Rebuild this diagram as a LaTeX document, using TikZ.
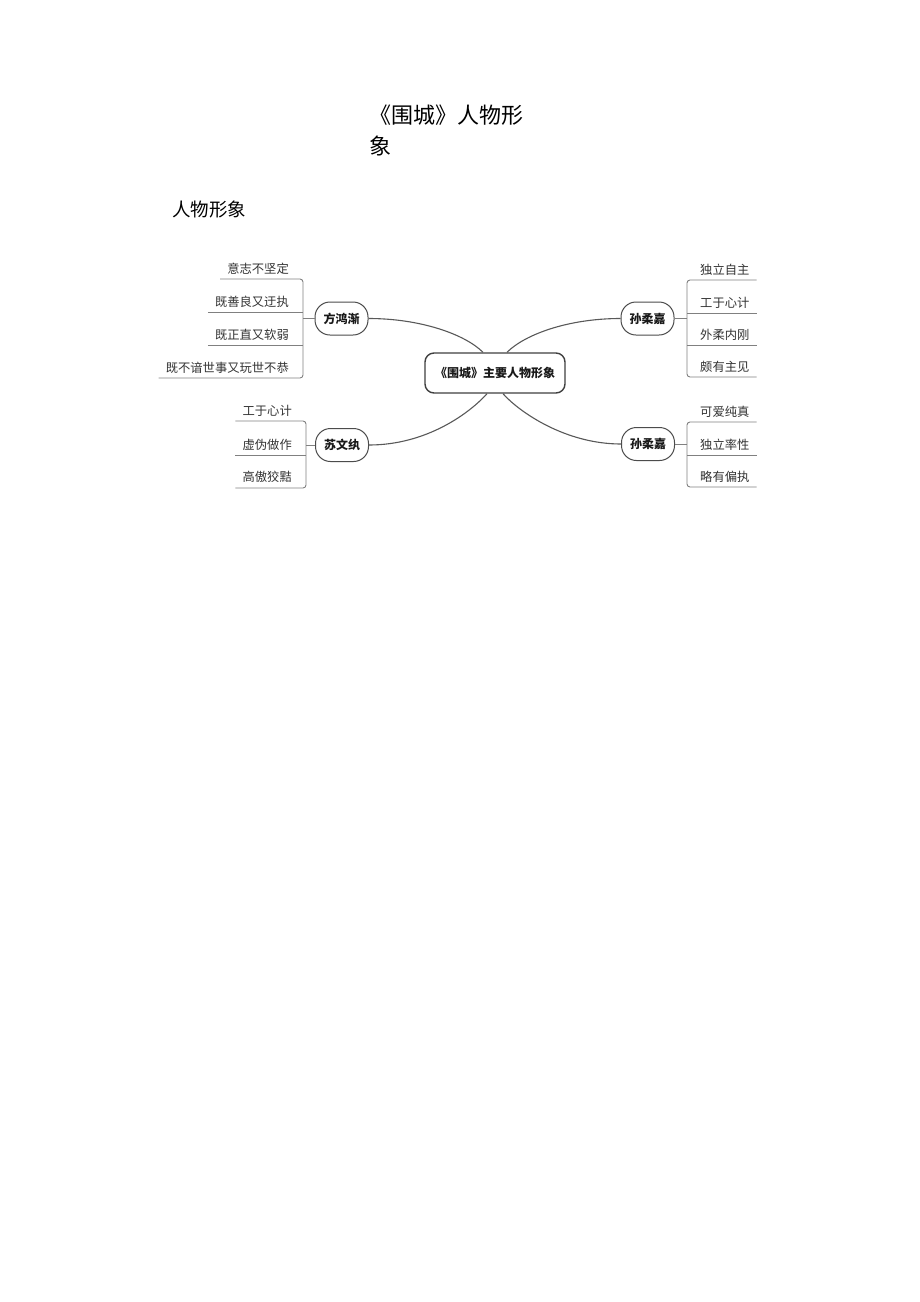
\documentclass[tikz,border=0pt]{standalone}
\usepackage{fontspec}
\setmainfont{Noto Sans CJK SC}
\begin{document}
\begin{tikzpicture}[x=1pt,y=-1pt,
  item/.style={font=\fontsize{12.3}{14}\selectfont, text=black!80, inner sep=0pt},
  bracket/.style={draw=black!50, line width=0.9pt, rounded corners=3pt},
  branch/.style={draw=black!70, line width=1pt, rounded corners=15pt, minimum width=53pt, minimum height=33pt, inner sep=0pt, text=black!90, font=\bfseries\fontsize{12}{14}\selectfont},
  central/.style={draw=black!75, line width=1.4pt, rounded corners=9pt, minimum width=140pt, minimum height=40pt, inner sep=0pt, text=black!90, font=\bfseries\fontsize{12}{14}\selectfont},
  link/.style={draw=black!65, line width=1.1pt}]
\useasboundingbox (0,0) rectangle (920,1302);
\fill[white] (0,0) rectangle (920,1302);

% headings
\node[anchor=west, align=left, inner sep=0pt, font=\fontsize{22}{31}\selectfont] (title) at (369,130.5) {《围城》人物形\\象};
\node[anchor=west, inner sep=0pt, font=\fontsize{18.5}{22}\selectfont] (sub) at (172,209) {人物形象};

% central and branch nodes
\node[central] (C) at (495,373) {《围城》主要人物形象};
\node[branch] (A) at (341.5,318.5) {方鸿渐};
\node[branch] (B) at (647.5,318.5) {孙柔嘉};
\node[branch] (S) at (342,445) {苏文纨};
\node[branch] (D) at (648,444) {孙柔嘉};

% curves
\draw[link] ([xshift=-12pt]C.north) .. controls +(-18,-18) and +(52,0) .. (A.east);
\draw[link] ([xshift=12pt]C.north) .. controls +(18,-18) and +(-52,0) .. (B.west);
\draw[link] ([xshift=-8pt]C.south) .. controls +(-17,19) and +(58,0) .. (S.east);
\draw[link] ([xshift=8pt]C.south) .. controls +(17,19) and +(-55,0) .. (D.west);

% ---- 方鸿渐 items
\node[item, anchor=east] (a1) at (289,269) {意志不坚定};
\node[item, anchor=east] (a2) at (289,302) {既善良又迂执};
\node[item, anchor=east] (a3) at (289,335) {既正直又软弱};
\node[item, anchor=east] (a4) at (289,368) {既不谙世事又玩世不恭};
\coordinate (Ab1) at (303,279);
\coordinate (Ab2) at (303,312);
\coordinate (Ab3) at (303,345);
\coordinate (Ab4) at (303,378);
\draw[bracket] ([xshift=-7pt]a1.west |- Ab1) -- (Ab1) -- (Ab4) -- ([xshift=-7pt]a4.west |- Ab4);
\draw[bracket] ([xshift=-7pt]a2.west |- Ab2) -- (Ab2);
\draw[bracket] ([xshift=-7pt]a3.west |- Ab3) -- (Ab3);
\draw[bracket] (Ab1 |- A) -- (A.west);

% ---- 孙柔嘉 (top) items
\node[item, anchor=west] (b1) at (700,270) {独立自主};
\node[item, anchor=west] (b2) at (700,303) {工于心计};
\node[item, anchor=west] (b3) at (700,335) {外柔内刚};
\node[item, anchor=west] (b4) at (700,367) {颇有主见};
\coordinate (Bb1) at (687,280);
\coordinate (Bb2) at (687,313);
\coordinate (Bb3) at (687,345);
\coordinate (Bb4) at (687,377);
\draw[bracket] ([xshift=7pt]b1.east |- Bb1) -- (Bb1) -- (Bb4) -- ([xshift=7pt]b4.east |- Bb4);
\draw[bracket] ([xshift=7pt]b2.east |- Bb2) -- (Bb2);
\draw[bracket] ([xshift=7pt]b3.east |- Bb3) -- (Bb3);
\draw[bracket] (Bb1 |- B) -- (B.east);

% ---- 苏文纨 items
\node[item, anchor=east] (s1) at (292,411) {工于心计};
\node[item, anchor=east] (s2) at (292,445) {虚伪做作};
\node[item, anchor=east] (s3) at (292,477) {高傲狡黠};
\coordinate (Sb1) at (306,421);
\coordinate (Sb2) at (306,455);
\coordinate (Sb3) at (306,488);
\draw[bracket] ([xshift=-7pt]s1.west |- Sb1) -- (Sb1) -- (Sb3) -- ([xshift=-7pt]s3.west |- Sb3);
\draw[bracket] ([xshift=-7pt]s2.west |- Sb2) -- (Sb2);
\draw[bracket] (Sb1 |- S) -- (S.west);

% ---- 孙柔嘉 (bottom) items
\node[item, anchor=west] (d1) at (700,412) {可爱纯真};
\node[item, anchor=west] (d2) at (700,445) {独立率性};
\node[item, anchor=west] (d3) at (700,477) {略有偏执};
\coordinate (Db1) at (687,422);
\coordinate (Db2) at (687,455);
\coordinate (Db3) at (687,487);
\draw[bracket] ([xshift=7pt]d1.east |- Db1) -- (Db1) -- (Db3) -- ([xshift=7pt]d3.east |- Db3);
\draw[bracket] ([xshift=7pt]d2.east |- Db2) -- (Db2);
\draw[bracket] (Db1 |- D) -- (D.east);
\end{tikzpicture}
\end{document}
